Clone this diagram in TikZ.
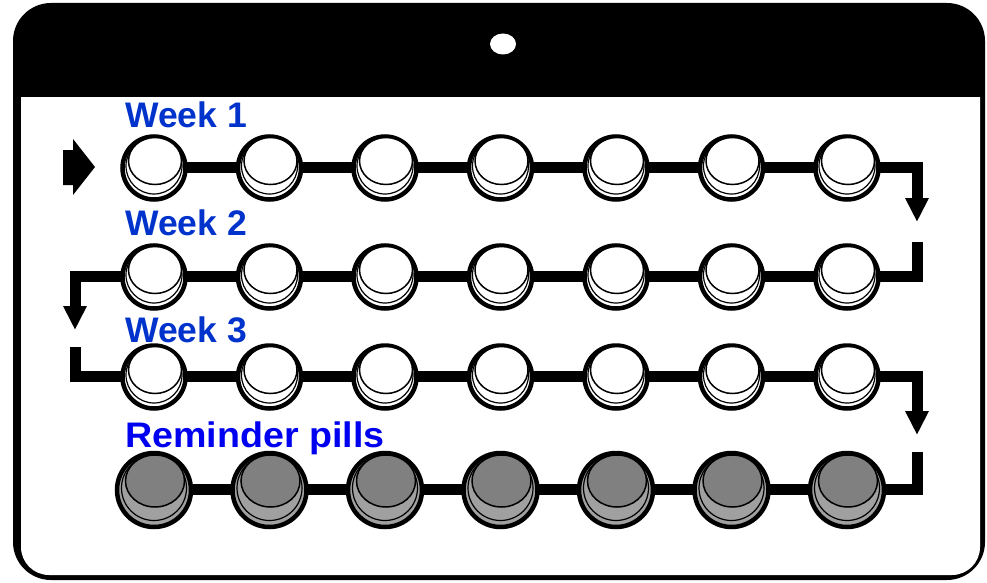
\documentclass[tikz,border=0pt]{standalone}
\usepackage{fontspec}
\setmainfont{Liberation Sans}
\usetikzlibrary{arrows.meta}
\definecolor{weekblue}{RGB}{0,51,204}
\definecolor{remblue}{RGB}{0,0,240}
\definecolor{ringgray}{RGB}{160,160,160}
\definecolor{domegray}{RGB}{128,128,128}
\tikzset{
  conn/.style={line width=11pt, line join=miter, draw=black},
  tipstyle/.style={-{Triangle[width=22pt,length=24pt]}},
  cardtext/.style={anchor=base west, inner sep=0pt, font=\fontsize{35.5}{40}\selectfont\bfseries},
  pics/pill/.style={code={
    \draw[line width=4.5pt, fill=white] (0,1) circle [radius=31.5];
    \draw[line width=1.2pt] (0,-1) circle [radius=28];
    \draw[line width=1.5pt, fill=white] (1,-6) ellipse [x radius=26.5, y radius=23.5];
  }},
  pics/rpill/.style={code={
    \draw[line width=4.5pt, fill=ringgray] (0,1) circle [radius=37];
    \draw[line width=1.2pt] (0,-1) circle [radius=32.5];
    \draw[line width=1.5pt, fill=domegray] (1,-8) ellipse [x radius=29.5, y radius=26];
  }},
}
\begin{document}
\begin{tikzpicture}[x=1pt,y=-1pt]
\useasboundingbox (0,0) rectangle (987,583);
% card
\fill[black, rounded corners=38] (13,3) rectangle (985,580);
\fill[white, rounded corners=28] (21,60) rectangle (980,575);
\fill[black] (13,45) rectangle (985,97);
\fill[white] (503,44) ellipse [x radius=13, y radius=10.5];
% pill coordinates
\foreach \i in {1,...,7}{
  \coordinate (c1\i) at ({154+115.5*(\i-1)},167);
  \coordinate (c2\i) at ({154+115.5*(\i-1)},276);
  \coordinate (c3\i) at ({154+115.5*(\i-1)},376);
  \coordinate (c4\i) at ({154+115.5*(\i-1)},489);
}
\coordinate (a1) at (917,222);
\coordinate (s2) at (917,242);
\coordinate (k2) at (75,276);
\coordinate (a2) at (75,330);
\coordinate (s3) at (75,347);
\coordinate (k3) at (917,376);
\coordinate (a3) at (917,435);
\coordinate (s4) at (917,452);
% connectors
\draw[conn, tipstyle] (c11) -| (a1);
\draw[conn, tipstyle] (s2) |- (k2) -- (a2);
\draw[conn, tipstyle] (s3) |- (k3) -- (a3);
\draw[conn] (s4) |- (c41);
% start arrow
\fill[black] (63,150) -- (73,150) -- (73,139) -- (95,167) -- (73,195) -- (73,185) -- (63,185) -- cycle;
% pills
\foreach \i in {1,...,7}{
  \pic at (c1\i) {pill};
  \pic at (c2\i) {pill};
  \pic at (c3\i) {pill};
  \pic at (c4\i) {rpill};
}
% texts
\node[cardtext, text=weekblue] (w1) at (125,128) {Week 1};
\node[cardtext, text=weekblue] (w2) at (125,235) {Week 2};
\node[cardtext, text=weekblue] (w3) at (125,342) {Week 3};
\node[cardtext, text=remblue] (rp) at (125,447) {\scalebox{1.06}[1]{Reminder pills}};
\end{tikzpicture}
\end{document}
